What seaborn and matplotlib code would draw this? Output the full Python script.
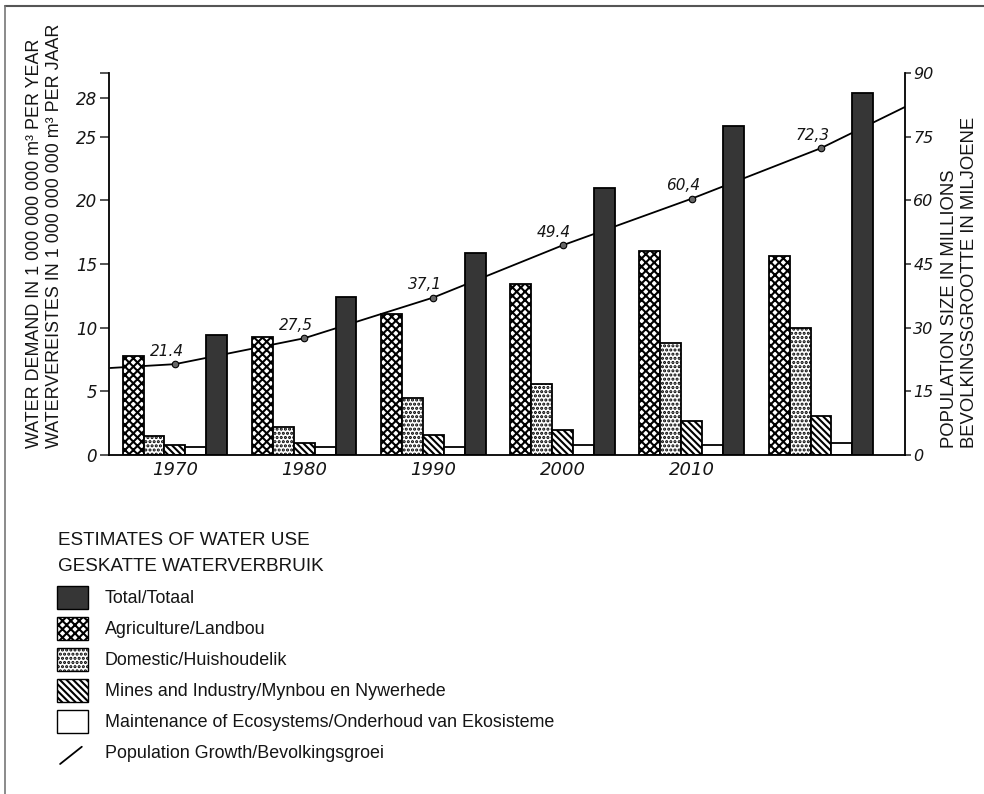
import matplotlib
matplotlib.use("Agg")
import matplotlib.pyplot as plt
import seaborn as sns
import numpy as np
import pandas as pd
from matplotlib.patches import Patch
from matplotlib.lines import Line2D
from matplotlib.legend_handler import HandlerBase
from matplotlib import font_manager

# ---------------- data ----------------
decades = ["1970", "1980", "1990", "2000", "2010", "2020"]
tick_labels = ["1970", "1980", "1990", "2000", "2010", ""]
categories = ["Agriculture", "Domestic", "Mines", "Ecosystems", "Total"]
total = [9.4, 12.4, 15.9, 21.0, 25.8, 28.4]
agriculture = [7.8, 9.3, 11.1, 13.4, 16.0, 15.6]
domestic = [1.5, 2.2, 4.5, 5.6, 8.8, 10.0]
mines = [0.8, 0.95, 1.6, 2.0, 2.7, 3.1]
ecosystems = [0.6, 0.6, 0.6, 0.78, 0.8, 0.92]

pop_years = [1965, 1970, 1980, 1990, 2000, 2010, 2020, 2026.5]
population = [20.5, 21.4, 27.5, 37.1, 49.4, 60.4, 72.3, 82.0]
pop_labels = ["21.4", "27,5", "37,1", "49.4", "60,4", "72,3"]

left_ticks = [0, 5, 10, 15, 20, 25, 28, 30]
left_tick_labels = ["0", "5", "10", "15", "20", "25", "28", ""]
right_ticks = [0, 15, 30, 45, 60, 75, 90]

legend_labels = ["Total/Totaal", "Agriculture/Landbou", "Domestic/Huishoudelik",
                 "Mines and Industry/Mynbou en Nywerhede",
                 "Maintenance of Ecosystems/Onderhoud van Ekosisteme",
                 "Population Growth/Bevolkingsgroei"]

# ---------------- style ----------------
sns.set_theme(style="white")
names = {f.name for f in font_manager.fontManager.ttflist}
narrow = "Liberation Sans Narrow" in names
fam = "Liberation Sans Narrow" if narrow else "Liberation Sans"
k = 1.0 if narrow else 0.82
plt.rcParams["font.family"] = [fam, "DejaVu Sans"]
plt.rcParams["hatch.linewidth"] = 1.5
plt.rcParams["hatch.color"] = "black"
TXT = "#151515"

TOTAL_C = "#363636"
palette = {"Agriculture": "white", "Domestic": "white", "Mines": "white",
           "Ecosystems": "white", "Total": TOTAL_C}
hatches = {"Agriculture": "xxxx", "Domestic": "....", "Mines": "\\" * 5,
           "Ecosystems": "", "Total": ""}

rows = []
for cat, vals in zip(categories, [agriculture, domestic, mines, ecosystems, total]):
    for d, v in zip(decades, vals):
        rows.append({"decade": d, "category": cat, "value": v})
df = pd.DataFrame(rows)

W, H = 984, 794
fig = plt.figure(figsize=(W / 100, H / 100), dpi=100)
fig.patch.set_facecolor("white")
ax = fig.add_axes([109 / W, 1 - 455 / H, (905 - 109) / W, (455 - 73) / H])

sns.barplot(data=df, x="decade", y="value", hue="category", order=decades,
            hue_order=categories, palette=palette, saturation=1, width=0.81,
            edgecolor="black", linewidth=1.3, legend=False, errorbar=None, ax=ax)
for cont, cat in zip(ax.containers, categories):
    for bar in cont:
        bar.set_hatch(hatches[cat])

ax2 = ax.twinx()
pop_pos = [(y - 1970) / 10 for y in pop_years]
sns.lineplot(x=pop_pos, y=population, ax=ax2, color="black", linewidth=1.3,
             sort=False, estimator=None)
sns.scatterplot(x=pop_pos[1:7], y=population[1:7], ax=ax2, s=22, color="#666666",
                edgecolor="black", linewidth=0.8, zorder=5)
for x, y, t in zip(pop_pos[1:7], population[1:7], pop_labels):
    ax2.annotate(t, (x, y), xytext=(-6, 4), textcoords="offset points",
                 ha="center", va="bottom", fontsize=11, style="italic",
                 family="DejaVu Sans", color=TXT)

ax.set_zorder(ax2.get_zorder() + 1)
ax.patch.set_visible(False)

ax.set_xlim(-0.51, 5.65)
ax.set_ylim(0, 30)
ax2.set_ylim(0, 90)
ax.set_xticks(range(len(decades)))
ax.set_xticklabels(tick_labels)
ax.set_yticks(left_ticks)
ax.set_yticklabels(left_tick_labels)
ax2.set_yticks(right_ticks)
ax2.set_yticklabels([str(t) for t in right_ticks])
ax.set_xlabel("")
ax.set_ylabel("")
ax2.set_ylabel("")

ax.tick_params(axis="x", length=0, pad=4, labelsize=13, labelcolor=TXT)
ax.tick_params(axis="y", length=6.5, width=1.1, pad=2, labelsize=12, direction="out",
               left=True, labelcolor=TXT)
ax2.tick_params(axis="y", length=4, width=1.1, pad=2, labelsize=11.5, direction="out",
                right=True, labelcolor=TXT)
for lbl in ax.get_xticklabels() + ax.get_yticklabels() + ax2.get_yticklabels():
    lbl.set_fontstyle("italic")
    lbl.set_family("DejaVu Sans")

for s in ["top", "right"]:
    ax.spines[s].set_visible(False)
for s in ["top", "left", "bottom"]:
    ax2.spines[s].set_visible(False)
for s in ["left", "bottom"]:
    ax.spines[s].set_linewidth(1.3)
    ax.spines[s].set_color("black")
ax2.spines["right"].set_linewidth(1.3)
ax2.spines["right"].set_color("black")

# axis labels
lab_fs = 15.7 * k
rlab_fs = 16.2 * k
fig.text(35 / W, 1 - 448 / H, "WATER DEMAND IN 1 000 000 000 m³ PER YEAR",
         rotation=90, ha="center", va="bottom", fontsize=lab_fs, color=TXT)
fig.text(55 / W, 1 - 448 / H, "WATERVEREISTES IN 1 000 000 000 m³ PER JAAR",
         rotation=90, ha="center", va="bottom", fontsize=lab_fs, color=TXT)
fig.text(949 / W, 1 - 448 / H, "POPULATION SIZE IN MILLIONS",
         rotation=90, ha="center", va="bottom", fontsize=rlab_fs, color=TXT)
fig.text(970 / W, 1 - 448 / H, "BEVOLKINGSGROOTTE IN MILJOENE",
         rotation=90, ha="center", va="bottom", fontsize=rlab_fs, color=TXT)

# legend title
title_fs = 16.6 * k
fig.text(58 / W, 1 - 545 / H, "ESTIMATES OF WATER USE", fontsize=title_fs,
         ha="left", va="baseline", color=TXT)
fig.text(58 / W, 1 - 571 / H, "GESKATTE WATERVERBRUIK", fontsize=title_fs,
         ha="left", va="baseline", color=TXT)


class DiagHandler(HandlerBase):
    def create_artists(self, legend, orig_handle, xdescent, ydescent, width,
                       height, fontsize, trans):
        ln = Line2D([-xdescent + 0.1 * width, -xdescent + 0.8 * width],
                    [-ydescent + 0.0 * height, -ydescent + 0.75 * height],
                    color="black", lw=1.3, transform=trans)
        return [ln]


pop_handle = Line2D([], [], color="black")
handles = [
    Patch(facecolor=TOTAL_C, edgecolor="black"),
    Patch(facecolor="white", edgecolor="black", hatch="xxxx"),
    Patch(facecolor="white", edgecolor="black", hatch="...."),
    Patch(facecolor="white", edgecolor="black", hatch="\\" * 5),
    Patch(facecolor="white", edgecolor="black"),
    pop_handle,
]
leg_fs = 15.7 * k
fs_px = leg_fs * 100 / 72
hh = (23 / fs_px - 0.245) / 0.65
row_h = max(23, 1.25 * fs_px)
fig.legend(handles, legend_labels, loc="upper left",
           bbox_to_anchor=(57 / W, 1 - 586 / H), frameon=False, borderpad=0,
           borderaxespad=0, fontsize=leg_fs, handlelength=31 / fs_px,
           handleheight=hh, labelspacing=(31 - row_h) / fs_px,
           handletextpad=17 / fs_px, handler_map={pop_handle: DiagHandler()},
           labelcolor=TXT)

# scan frame
fig.add_artist(Line2D([5 / W, 1], [1 - 6 / H, 1 - 6 / H], transform=fig.transFigure,
                      color="#555555", lw=1.5))
fig.add_artist(Line2D([5 / W, 5 / W], [0, 1 - 6 / H], transform=fig.transFigure,
                      color="#777777", lw=1.2))

fig.savefig("out.png", dpi=100, facecolor="white")
